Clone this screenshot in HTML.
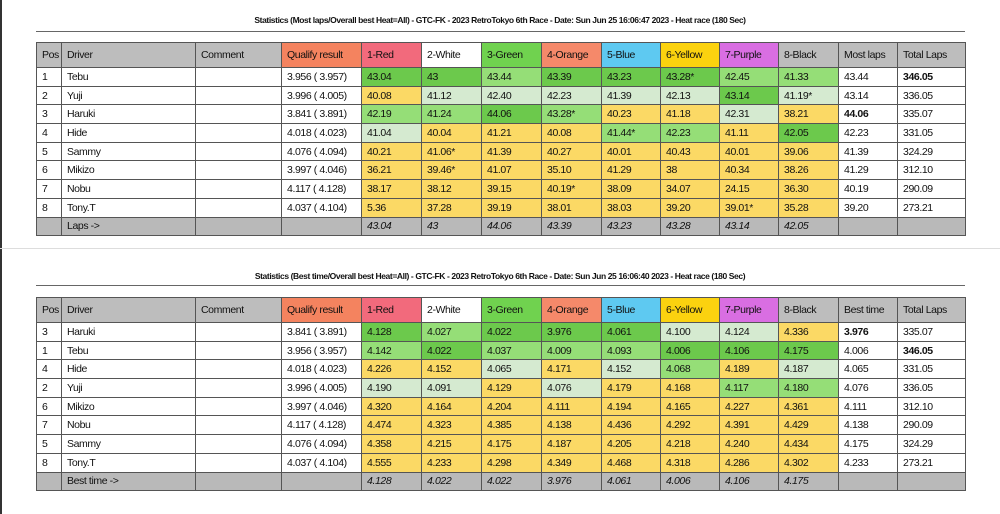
<!DOCTYPE html>
<html><head><meta charset="utf-8"><style>
body{margin:0;width:1000px;height:514px;background:#fff;position:relative;overflow:hidden;font-family:"Liberation Sans",sans-serif;}
.t{position:absolute;left:0;width:1000px;text-align:center;font-size:8.5px;font-weight:bold;letter-spacing:-0.4px;color:#111}
.ln{position:absolute;left:36px;width:929px;height:1px;background:#666}
table{position:absolute;left:36px;border-collapse:collapse;table-layout:fixed;width:929px;font-size:10.5px;letter-spacing:-0.4px;color:#111}
td{border:1px solid #555;padding:0 0 0 5px;white-space:nowrap;overflow:hidden;height:17.7px}
tr.h td{height:24px;background:#bdbdbd}
tr.f td{background:#b9b9b9;font-style:italic;height:17.7px}
.D{background:#6cc94c}.L{background:#95de77}.P{background:#d5ead0}.Y{background:#fbd965}
.q{background:#f4835f!important}.r{background:#f26a7c!important}.w{background:#fff!important}.g{background:#70d24f!important}
.o{background:#f5896a!important}.b{background:#5ec9f1!important}.y{background:#fbd20f!important}.p{background:#d96ee2!important}
</style></head><body>
<div style="position:absolute;left:0;top:0;width:2px;height:514px;background:#333"></div>
<div style="position:absolute;left:0;top:248px;width:1000px;height:1px;background:#ddd"></div>
<div class="t" style="top:15px">Statistics (Most laps/Overall best Heat=All) - GTC-FK - 2023 RetroTokyo 6th Race - Date: Sun Jun 25 16:06:47 2023 - Heat race (180 Sec)</div>
<div class="ln" style="top:31px"></div>
<table style="top:42px">
<colgroup><col style="width:25px"><col style="width:134px"><col style="width:86px"><col style="width:80px"><col style="width:60px"><col style="width:60px"><col style="width:60px"><col style="width:60px"><col style="width:59px"><col style="width:59px"><col style="width:59px"><col style="width:60px"><col style="width:59px"><col style="width:68px"></colgroup>
<tr class="h"><td>Pos</td><td>Driver</td><td>Comment</td><td class="q">Qualify result</td><td class="r">1-Red</td><td class="w">2-White</td><td class="g">3-Green</td><td class="o">4-Orange</td><td class="b">5-Blue</td><td class="y">6-Yellow</td><td class="p">7-Purple</td><td>8-Black</td><td>Most laps</td><td>Total Laps</td></tr>
<tr><td>1</td><td>Tebu</td><td></td><td>3.956 ( 3.957)</td><td class="D">43.04</td><td class="D">43</td><td class="L">43.44</td><td class="D">43.39</td><td class="D">43.23</td><td class="D">43.28*</td><td class="L">42.45</td><td class="L">41.33</td><td>43.44</td><td><b>346.05</b></td></tr>
<tr><td>2</td><td>Yuji</td><td></td><td>3.996 ( 4.005)</td><td class="Y">40.08</td><td class="P">41.12</td><td class="P">42.40</td><td class="P">42.23</td><td class="P">41.39</td><td class="P">42.13</td><td class="D">43.14</td><td class="P">41.19*</td><td>43.14</td><td>336.05</td></tr>
<tr><td>3</td><td>Haruki</td><td></td><td>3.841 ( 3.891)</td><td class="L">42.19</td><td class="L">41.24</td><td class="D">44.06</td><td class="L">43.28*</td><td class="Y">40.23</td><td class="Y">41.18</td><td class="P">42.31</td><td class="Y">38.21</td><td><b>44.06</b></td><td>335.07</td></tr>
<tr><td>4</td><td>Hide</td><td></td><td>4.018 ( 4.023)</td><td class="P">41.04</td><td class="Y">40.04</td><td class="Y">41.21</td><td class="Y">40.08</td><td class="L">41.44*</td><td class="L">42.23</td><td class="Y">41.11</td><td class="D">42.05</td><td>42.23</td><td>331.05</td></tr>
<tr><td>5</td><td>Sammy</td><td></td><td>4.076 ( 4.094)</td><td class="Y">40.21</td><td class="Y">41.06*</td><td class="Y">41.39</td><td class="Y">40.27</td><td class="Y">40.01</td><td class="Y">40.43</td><td class="Y">40.01</td><td class="Y">39.06</td><td>41.39</td><td>324.29</td></tr>
<tr><td>6</td><td>Mikizo</td><td></td><td>3.997 ( 4.046)</td><td class="Y">36.21</td><td class="Y">39.46*</td><td class="Y">41.07</td><td class="Y">35.10</td><td class="Y">41.29</td><td class="Y">38</td><td class="Y">40.34</td><td class="Y">38.26</td><td>41.29</td><td>312.10</td></tr>
<tr><td>7</td><td>Nobu</td><td></td><td>4.117 ( 4.128)</td><td class="Y">38.17</td><td class="Y">38.12</td><td class="Y">39.15</td><td class="Y">40.19*</td><td class="Y">38.09</td><td class="Y">34.07</td><td class="Y">24.15</td><td class="Y">36.30</td><td>40.19</td><td>290.09</td></tr>
<tr><td>8</td><td>Tony.T</td><td></td><td>4.037 ( 4.104)</td><td class="Y">5.36</td><td class="Y">37.28</td><td class="Y">39.19</td><td class="Y">38.01</td><td class="Y">38.03</td><td class="Y">39.20</td><td class="Y">39.01*</td><td class="Y">35.28</td><td>39.20</td><td>273.21</td></tr>
<tr class="f"><td></td><td style="font-style:normal">Laps -&gt;</td><td></td><td></td><td>43.04</td><td>43</td><td>44.06</td><td>43.39</td><td>43.23</td><td>43.28</td><td>43.14</td><td>42.05</td><td></td><td></td></tr>
</table>

<div class="t" style="top:271px">Statistics (Best time/Overall best Heat=All) - GTC-FK - 2023 RetroTokyo 6th Race - Date: Sun Jun 25 16:06:40 2023 - Heat race (180 Sec)</div>
<div class="ln" style="top:285px"></div>
<table style="top:297px">
<colgroup><col style="width:25px"><col style="width:134px"><col style="width:86px"><col style="width:80px"><col style="width:60px"><col style="width:60px"><col style="width:60px"><col style="width:60px"><col style="width:59px"><col style="width:59px"><col style="width:59px"><col style="width:60px"><col style="width:59px"><col style="width:68px"></colgroup>
<tr class="h"><td>Pos</td><td>Driver</td><td>Comment</td><td class="q">Qualify result</td><td class="r">1-Red</td><td class="w">2-White</td><td class="g">3-Green</td><td class="o">4-Orange</td><td class="b">5-Blue</td><td class="y">6-Yellow</td><td class="p">7-Purple</td><td>8-Black</td><td>Best time</td><td>Total Laps</td></tr>
<tr><td>3</td><td>Haruki</td><td></td><td>3.841 ( 3.891)</td><td class="D">4.128</td><td class="L">4.027</td><td class="D">4.022</td><td class="D">3.976</td><td class="D">4.061</td><td class="P">4.100</td><td class="P">4.124</td><td class="Y">4.336</td><td><b>3.976</b></td><td>335.07</td></tr>
<tr><td>1</td><td>Tebu</td><td></td><td>3.956 ( 3.957)</td><td class="L">4.142</td><td class="D">4.022</td><td class="L">4.037</td><td class="L">4.009</td><td class="L">4.093</td><td class="D">4.006</td><td class="D">4.106</td><td class="D">4.175</td><td>4.006</td><td><b>346.05</b></td></tr>
<tr><td>4</td><td>Hide</td><td></td><td>4.018 ( 4.023)</td><td class="Y">4.226</td><td class="Y">4.152</td><td class="P">4.065</td><td class="Y">4.171</td><td class="P">4.152</td><td class="L">4.068</td><td class="Y">4.189</td><td class="P">4.187</td><td>4.065</td><td>331.05</td></tr>
<tr><td>2</td><td>Yuji</td><td></td><td>3.996 ( 4.005)</td><td class="P">4.190</td><td class="P">4.091</td><td class="Y">4.129</td><td class="P">4.076</td><td class="Y">4.179</td><td class="Y">4.168</td><td class="L">4.117</td><td class="L">4.180</td><td>4.076</td><td>336.05</td></tr>
<tr><td>6</td><td>Mikizo</td><td></td><td>3.997 ( 4.046)</td><td class="Y">4.320</td><td class="Y">4.164</td><td class="Y">4.204</td><td class="Y">4.111</td><td class="Y">4.194</td><td class="Y">4.165</td><td class="Y">4.227</td><td class="Y">4.361</td><td>4.111</td><td>312.10</td></tr>
<tr><td>7</td><td>Nobu</td><td></td><td>4.117 ( 4.128)</td><td class="Y">4.474</td><td class="Y">4.323</td><td class="Y">4.385</td><td class="Y">4.138</td><td class="Y">4.436</td><td class="Y">4.292</td><td class="Y">4.391</td><td class="Y">4.429</td><td>4.138</td><td>290.09</td></tr>
<tr><td>5</td><td>Sammy</td><td></td><td>4.076 ( 4.094)</td><td class="Y">4.358</td><td class="Y">4.215</td><td class="Y">4.175</td><td class="Y">4.187</td><td class="Y">4.205</td><td class="Y">4.218</td><td class="Y">4.240</td><td class="Y">4.434</td><td>4.175</td><td>324.29</td></tr>
<tr><td>8</td><td>Tony.T</td><td></td><td>4.037 ( 4.104)</td><td class="Y">4.555</td><td class="Y">4.233</td><td class="Y">4.298</td><td class="Y">4.349</td><td class="Y">4.468</td><td class="Y">4.318</td><td class="Y">4.286</td><td class="Y">4.302</td><td>4.233</td><td>273.21</td></tr>
<tr class="f"><td></td><td style="font-style:normal">Best time -&gt;</td><td></td><td></td><td>4.128</td><td>4.022</td><td>4.022</td><td>3.976</td><td>4.061</td><td>4.006</td><td>4.106</td><td>4.175</td><td></td><td></td></tr>
</table>
</body></html>
